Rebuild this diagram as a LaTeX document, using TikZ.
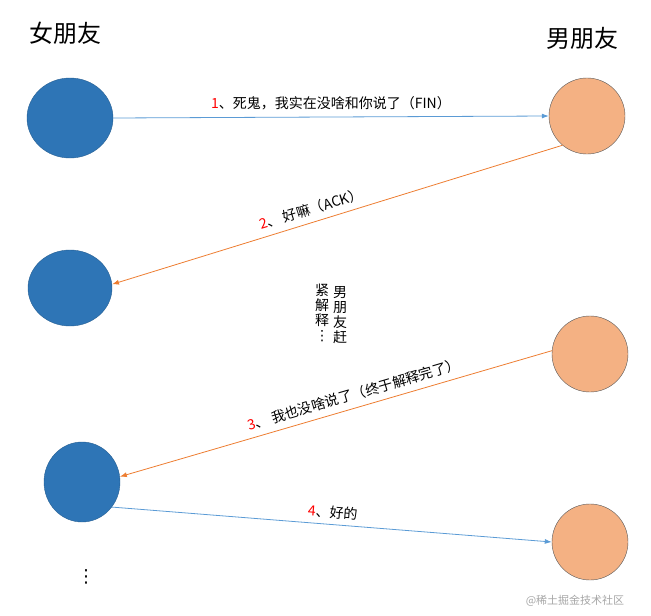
\documentclass[tikz,border=0pt]{standalone}
\usepackage{fontspec}
\setmainfont{Noto Sans CJK SC}
\newfontfamily\dv{DejaVu Sans}
\usetikzlibrary{shapes.geometric,arrows.meta}
\definecolor{gf}{HTML}{2E75B6}
\definecolor{bf}{HTML}{F4B183}
\definecolor{bl}{HTML}{5B9BD5}
\definecolor{og}{HTML}{ED7D31}
\begin{document}
\begin{tikzpicture}[x=1pt,y=-1pt,
 girl/.style={ellipse,fill=gf,draw=gf!80!black,minimum width=86pt,minimum height=80pt,inner sep=0pt},
 boy/.style={ellipse,fill=bf,draw=gray!70!black,minimum width=76pt,minimum height=76pt,inner sep=0pt},
 bline/.style={draw=bl,line width=0.8pt,-{Latex[length=7pt,width=5pt]}},
 oline/.style={draw=og,line width=0.8pt,-{Latex[length=7pt,width=5pt]}},
 lab/.style={font=\fontsize{14}{16}\selectfont},
 title/.style={font=\fontsize{24}{28}\selectfont}]
\useasboundingbox (0,0) rectangle (651,616);
\node[girl] (g1) at (70,118) {};
\node[boy] (b1) at (587,116) {};
\node[girl,minimum width=84pt,minimum height=76pt] (g2) at (70,288) {};
\node[boy] (b2) at (590,354) {};
\node[girl,minimum width=76pt,minimum height=80pt] (g3) at (82,482) {};
\node[boy] (b3) at (590,542) {};
\node[title] (t1) at (65,33) {女朋友};
\node[title] (t2) at (582,38) {男朋友};
\draw[bline] (g1.east) -- (b1.west) node[lab,midway,above=3pt] (l1) {\textcolor{red}{1}、死鬼，我实在没啥和你说了（FIN）};
\draw[oline] (b1.-130) -- (g2.5) node[lab,pos=0.55,above=3pt,sloped] (l2) {\textcolor{red}{2}、 好嘛（ACK）};
\draw[oline] (b2.175) -- (g3.8) node[lab,pos=0.45,above=3pt,sloped] (l3) {\textcolor{red}{3}、 我也没啥说了（终于解释完了）};
\draw[bline] (g3.-40) -- (b3.180) node[lab,midway,above=2pt,sloped] (l4) {\textcolor{red}{4}、好的};
\node[font=\fontsize{14}{15}\selectfont,align=center,inner sep=0pt] (v1) at (340,315) {男\\朋\\友\\赶};
\node[font=\fontsize{14}{15}\selectfont,align=center,inner sep=0pt] (v2) at (322,313) {紧\\解\\释\\{\dv ⋮}};
\node[font=\fontsize{18}{20}\selectfont\dv] (dots) at (86,577) {⋮};
\node[font=\fontsize{11}{13}\selectfont,text=gray!70] (wm) at (575,601) {@稀土掘金技术社区};
\end{tikzpicture}
\end{document}
